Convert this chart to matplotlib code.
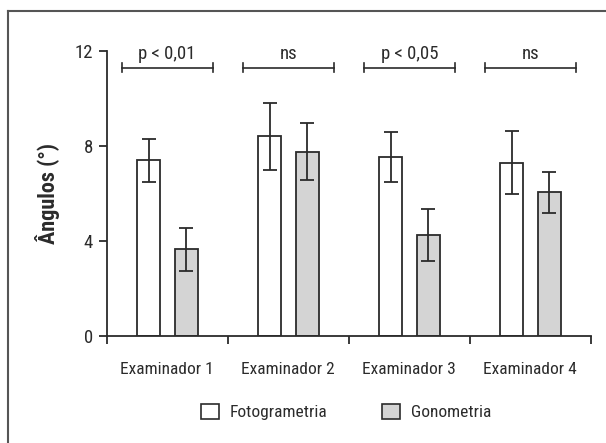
import os

import matplotlib

matplotlib.use("Agg")

import matplotlib.pyplot as plt
import numpy as np
from matplotlib import font_manager as fm
from matplotlib.lines import Line2D
from matplotlib.patches import Patch

examiners = ["Examinador 1", "Examinador 2", "Examinador 3", "Examinador 4"]
foto_mean = [7.4, 8.4, 7.55, 7.3]
foto_err = [0.9, 1.4, 1.05, 1.33]
gonio_mean = [3.65, 7.75, 4.25, 6.05]
gonio_err = [0.9, 1.2, 1.1, 0.86]
p_labels = ["p < 0,01", "ns", "p < 0,05", "ns"]

INK = "#2b2b2b"
GRAY = "#d4d4d4"


def find_narrow(bold=False):
    """Look for an installed condensed sans face, regular or bold."""
    keys = ["narrow", "condensed"]
    found = []
    for f in fm.fontManager.ttflist:
        base = os.path.basename(f.fname).lower()
        if not any(k in base for k in keys):
            continue
        if "semi" in base or "extra" in base or "ultra" in base:
            continue
        if "italic" in base or "oblique" in base:
            continue
        if "mono" in base or "serif" in base:
            continue
        is_bold = "bold" in base
        if is_bold != bold:
            continue
        found.append(f.fname)
    found.sort(key=lambda p: ("liberation" not in p.lower(),
                              "roboto" not in p.lower(), p))
    return found[0] if found else None


def props(fname, size, bold=False):
    if fname:
        p = fm.FontProperties(fname=fname)
    else:
        p = fm.FontProperties(family="Liberation Sans")
        size *= 0.85
        if bold:
            p.set_weight("bold")
    p.set_size(size)
    return p


reg_file = find_narrow(False)
bold_file = find_narrow(True)
fp = props(reg_file, 12.5)            # category labels, legend
fp_tick = props(reg_file, 13.5)       # y tick labels
fp_note = props(reg_file, 13.5)       # p-value annotations
fpb = props(bold_file, 16, bold=True)  # y axis title

fig = plt.figure(figsize=(6.06, 4.43), dpi=100)
ax = fig.add_axes([0.176, 0.2415, 0.799, 0.6435])

x = np.arange(len(examiners))
width = 0.187
err_kw = dict(ecolor=INK, elinewidth=1.3, capsize=5, capthick=1.3)
ax.bar(x + 0.347, foto_mean, width, yerr=foto_err, color="white",
       edgecolor=INK, linewidth=1.3, error_kw=err_kw, zorder=2)
ax.bar(x + 0.658, gonio_mean, width, yerr=gonio_err, color=GRAY,
       edgecolor=INK, linewidth=1.3, error_kw=err_kw, zorder=2)

# significance brackets above each examiner
for i, lab in enumerate(p_labels):
    ax.plot([i + 0.124, i + 0.876], [11.3, 11.3], color=INK, lw=1.2,
            clip_on=False)
    for xe in (i + 0.124, i + 0.876):
        ax.plot([xe, xe], [11.1, 11.5], color=INK, lw=1.2, clip_on=False)
    ax.text(i + 0.5, 11.5, lab, ha="center", va="bottom",
            fontproperties=fp_note, color=INK)

ax.set_xlim(0, 4)
ax.set_ylim(0, 12)
ax.set_yticks([0, 4, 8, 12])
ax.set_xticks(np.arange(5))
ax.set_xticklabels([])
ax.set_xticks(x + 0.5, minor=True)
ax.set_xticklabels(examiners, minor=True)
ax.tick_params(axis="x", which="minor", length=0, pad=19, labelcolor=INK)
ax.tick_params(axis="x", which="major", length=6, width=1.3, color=INK)
ax.tick_params(axis="y", length=6, width=1.3, color=INK, labelcolor=INK,
               pad=4)
for lab in ax.get_xticklabels(minor=True):
    lab.set_fontproperties(fp)
for lab in ax.get_yticklabels():
    lab.set_fontproperties(fp_tick)
for side in ("top", "right"):
    ax.spines[side].set_visible(False)
for side in ("left", "bottom"):
    ax.spines[side].set_color(INK)
    ax.spines[side].set_linewidth(1.3)
ax.set_ylabel("Ângulos (°)", fontproperties=fpb, color=INK, labelpad=10)

handles = [Patch(facecolor="white", edgecolor=INK, linewidth=1.2),
           Patch(facecolor=GRAY, edgecolor=INK, linewidth=1.2)]
fig.legend(handles, ["Fotogrametria", "Gonometria"], loc="center",
           bbox_to_anchor=(0.571, 0.07), ncol=2, frameon=False,
           prop=fp, handlelength=1.03, handleheight=1.03,
           columnspacing=3.1, handletextpad=0.65, labelcolor=INK)

# partial border around the panel (left and top edges)
fig.add_artist(Line2D([0.0127, 0.0127], [0.0, 0.975], color="#555555",
                      lw=1.5, transform=fig.transFigure))
fig.add_artist(Line2D([0.0127, 1.0], [0.975, 0.975], color="#555555",
                      lw=1.5, transform=fig.transFigure))

fig.savefig("out.png", dpi=100)
